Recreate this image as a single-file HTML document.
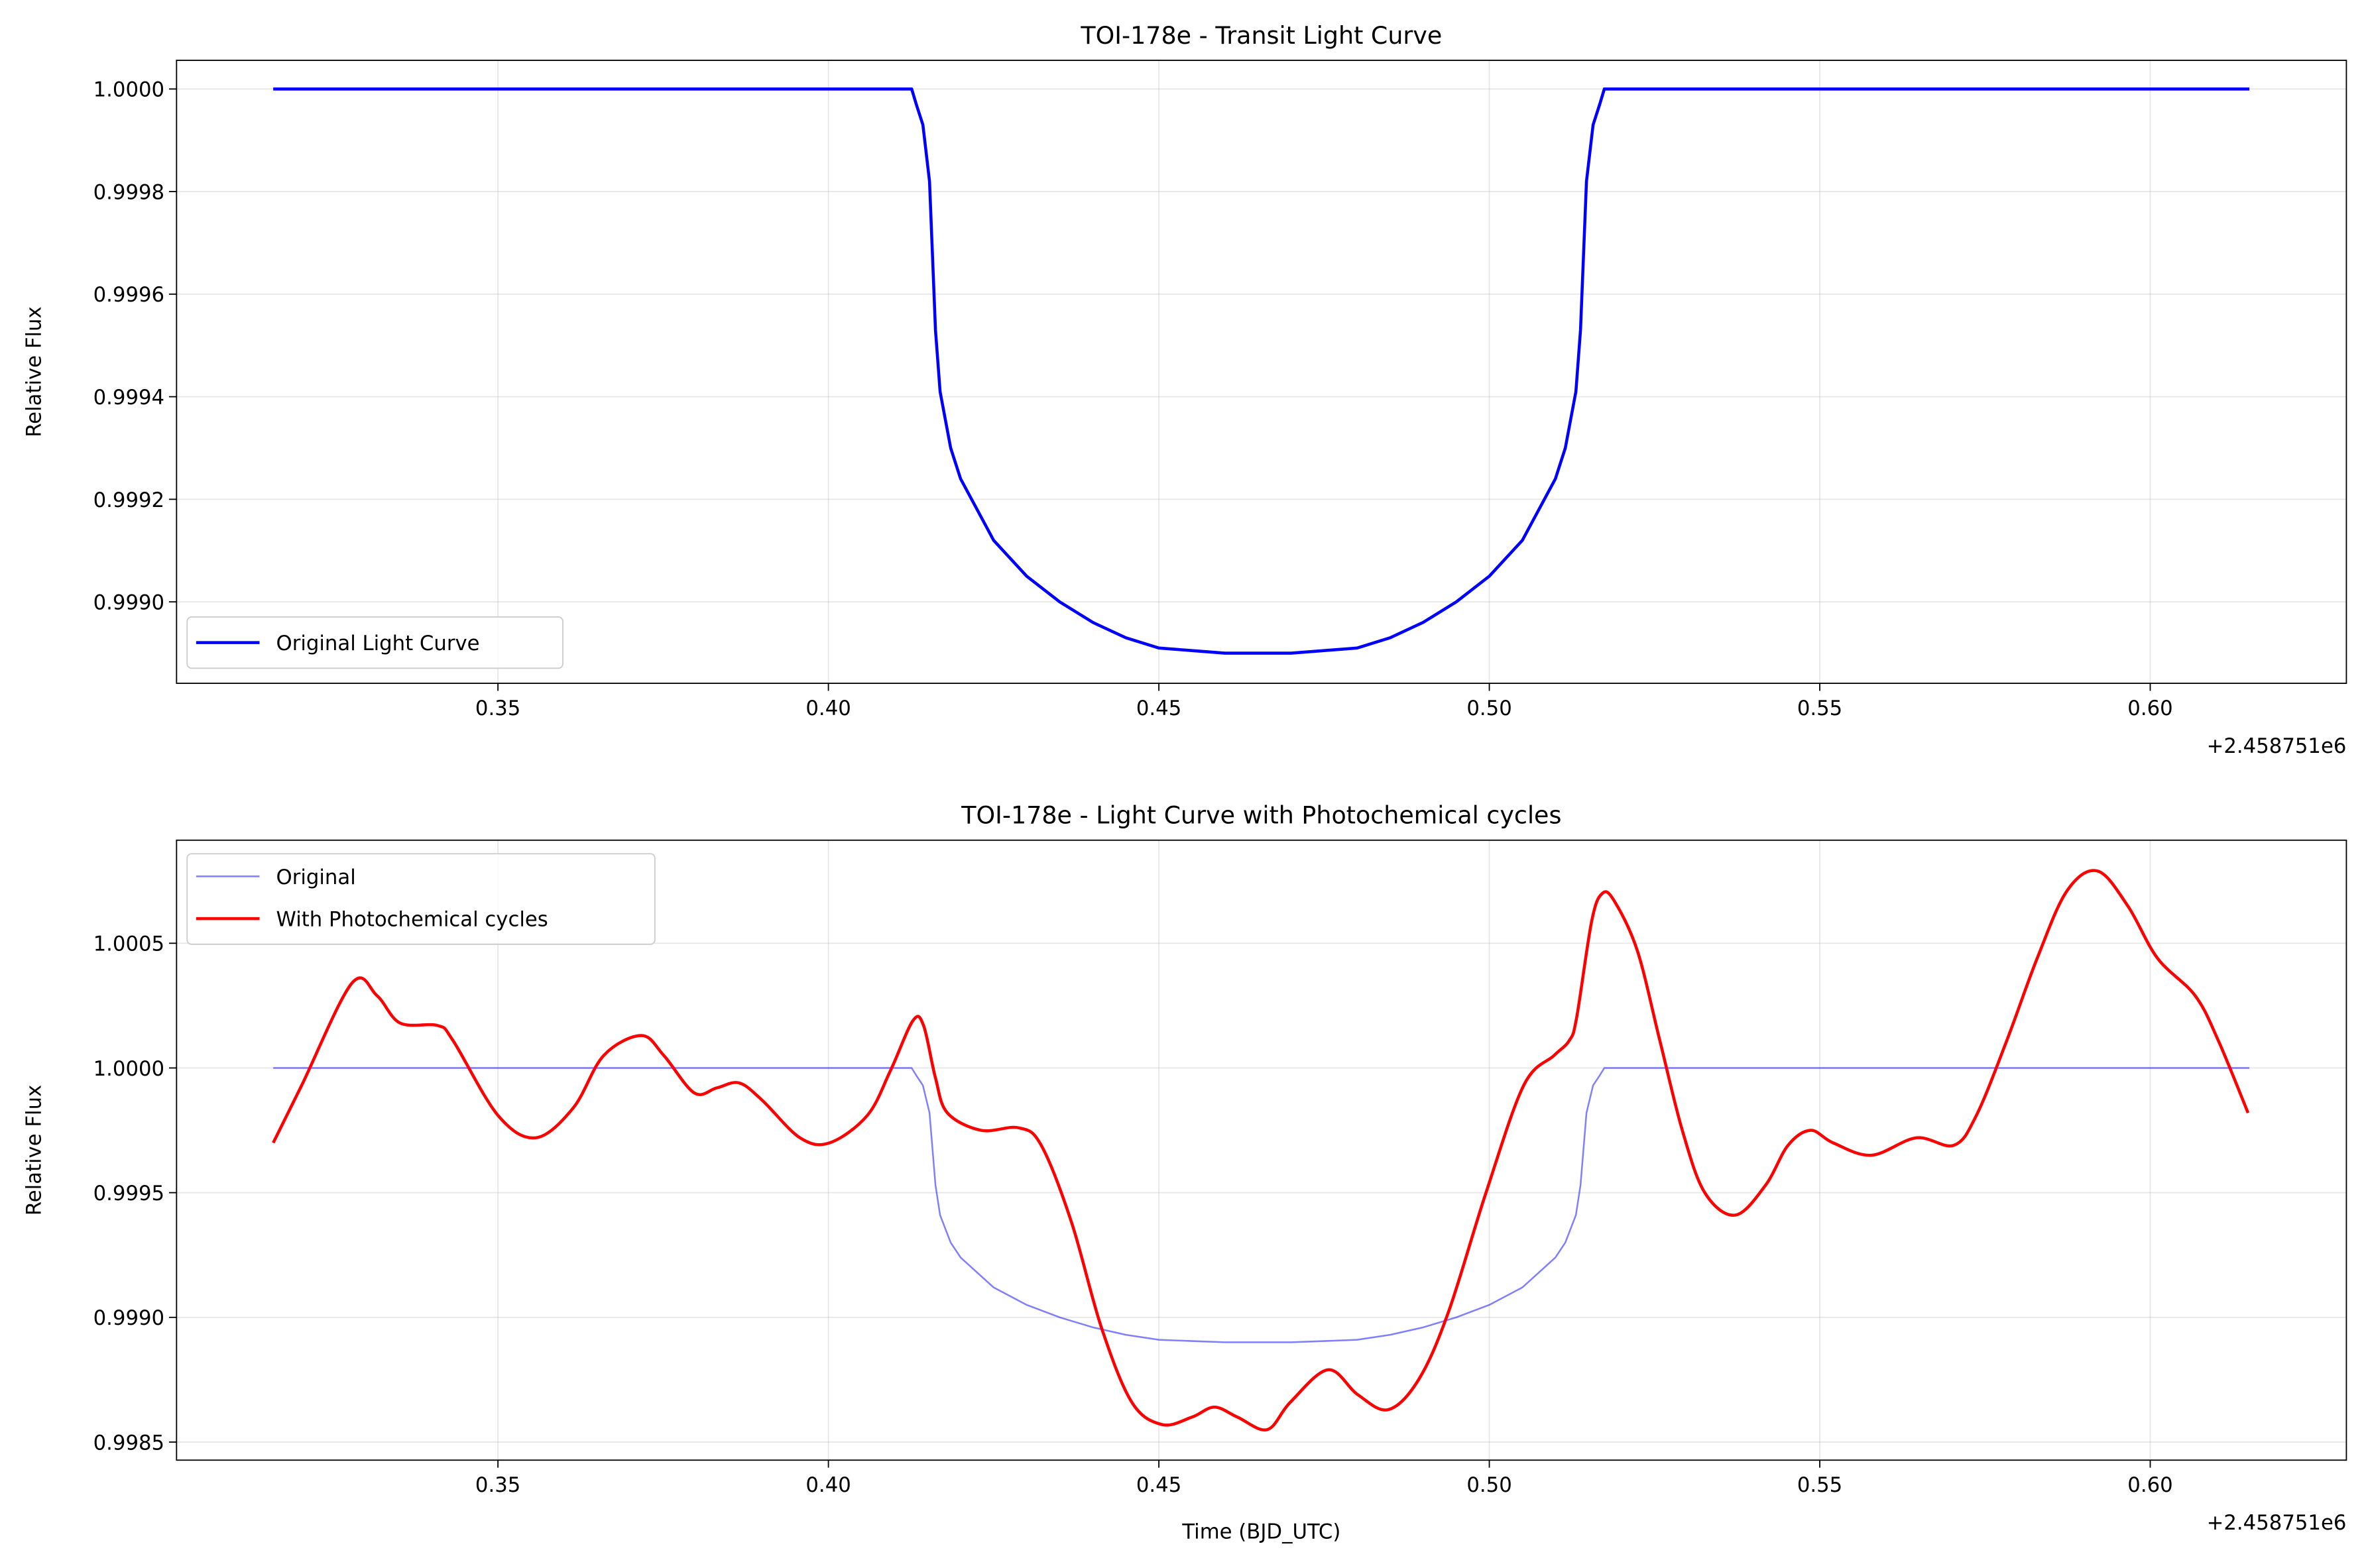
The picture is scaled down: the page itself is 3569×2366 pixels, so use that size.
<!DOCTYPE html>
<html><head><meta charset="utf-8"><style>
html,body{margin:0;padding:0;background:#fff;}
svg{display:block;font-family:"DejaVu Sans","Liberation Sans",sans-serif;}
</style></head><body>
<svg id="chart" width="3569" height="2366" viewBox="0 0 1568 1039.5" preserveAspectRatio="none" xmlns="http://www.w3.org/2000/svg">
<rect width="1568" height="1039.5" fill="#fff"/>
<g id="top"></g>
<g id="bot"></g>
</svg>
<script>
const xTicks = [0.35, 0.40, 0.45, 0.50, 0.55, 0.60];
const xTickLabels = ["0.35","0.40","0.45","0.50","0.55","0.60"];
const topYTicks = [0.9990, 0.9992, 0.9994, 0.9996, 0.9998, 1.0000];
const topYTickLabels = ["0.9990","0.9992","0.9994","0.9996","0.9998","1.0000"];
const botYTicks = [0.9985, 0.9990, 0.9995, 1.0000, 1.0005];
const botYTickLabels = ["0.9985","0.9990","0.9995","1.0000","1.0005"];
const transitTime = [0.316,0.4126,0.4133,0.4143,0.4153,0.4162,0.4169,0.4185,0.420,0.425,0.430,0.435,0.440,0.445,0.450,0.455,0.460,0.465,0.470,0.475,0.480,0.485,0.490,0.495,0.500,0.505,0.510,0.5115,0.5131,0.5138,0.5147,0.5157,0.5167,0.5174,0.615];
const transitFlux = [1,1,0.99997,0.99993,0.99982,0.99953,0.99941,0.99930,0.99924,0.99912,0.99905,0.99900,0.99896,0.99893,0.99891,0.998905,0.99890,0.99890,0.99890,0.998905,0.99891,0.99893,0.99896,0.99900,0.99905,0.99912,0.99924,0.99930,0.99941,0.99953,0.99982,0.99993,0.99997,1,1];
const photoTime = [0.3160,0.3203,0.3279,0.3317,0.3352,0.3409,0.3432,0.3500,0.3557,0.3614,0.3660,0.3717,0.3751,0.3797,0.3831,0.3865,0.3900,0.3957,0.4002,0.4059,0.4094,0.4128,0.4144,0.4162,0.4180,0.4231,0.4288,0.4322,0.4368,0.4413,0.4459,0.4505,0.4550,0.4584,0.4619,0.4664,0.4699,0.4756,0.4801,0.4847,0.4893,0.4938,0.4995,0.5052,0.5098,0.5121,0.5132,0.5155,0.5171,0.5189,0.5224,0.5258,0.5292,0.5326,0.5372,0.5418,0.5452,0.5486,0.5520,0.5578,0.5646,0.5703,0.5737,0.5783,0.5829,0.5874,0.5920,0.5966,0.6011,0.6068,0.6103,0.6148];
const photoFlux = [0.99970,0.99993,1.00034,1.00029,1.00018,1.00017,1.00011,0.99981,0.99972,0.99984,1.00005,1.00013,1.00005,0.99990,0.99992,0.99994,0.99987,0.99972,0.99970,0.99981,0.99999,1.00019,1.00017,0.99996,0.99982,0.99975,0.99976,0.99969,0.99938,0.99896,0.99866,0.99857,0.99860,0.99864,0.99860,0.99855,0.99866,0.99879,0.99869,0.99863,0.99875,0.99902,0.99950,0.99993,1.00005,1.00011,1.00020,1.00059,1.00070,1.00067,1.00047,1.00011,0.99975,0.99950,0.99941,0.99953,0.99969,0.99975,0.99970,0.99965,0.99972,0.99969,0.99981,1.00011,1.00044,1.00071,1.00079,1.00065,1.00044,1.00029,1.00011,0.99982];

const NS="http://www.w3.org/2000/svg";
function mk(parent,tag,attrs,text){const e=document.createElementNS(NS,tag);for(const k in attrs)e.setAttribute(k,attrs[k]);if(text!==undefined)e.textContent=text;parent.appendChild(e);return e;}
const L=117,R=1555;
const xs=t=>330+(t-0.35)/0.05*219;
function smooth(pts){let d="M"+pts[0][0].toFixed(2)+","+pts[0][1].toFixed(2);
 for(let i=0;i<pts.length-1;i++){const p0=pts[Math.max(0,i-1)],p1=pts[i],p2=pts[i+1],p3=pts[Math.min(pts.length-1,i+2)];
 const c1=[p1[0]+(p2[0]-p0[0])/6,p1[1]+(p2[1]-p0[1])/6],c2=[p2[0]-(p3[0]-p1[0])/6,p2[1]-(p3[1]-p1[1])/6];
 d+=" C"+c1[0].toFixed(2)+","+c1[1].toFixed(2)+" "+c2[0].toFixed(2)+","+c2[1].toFixed(2)+" "+p2[0].toFixed(2)+","+p2[1].toFixed(2);}return d;}
function poly(pts){return pts.map(p=>p[0].toFixed(2)+","+p[1].toFixed(2)).join(' ');}
function panel(g,T,B,ys,yt,yl,title,showXLabel){
 mk(g,'rect',{x:L,y:T,width:R-L,height:B-T,fill:'#fff'});
 xTicks.forEach((v,i)=>{const x=xs(v);
  const gl=mk(g,'line',{x1:x,x2:x,y1:T,y2:B,stroke:'#b0b0b0','stroke-opacity':0.3,'stroke-width':0.8});
  
  mk(g,'line',{x1:x,x2:x,y1:B,y2:B+5,stroke:'#000','stroke-width':0.8});
  const tl=mk(g,'text',{x:x,y:B+21,'font-size':13.5,'text-anchor':'middle'},xTickLabels[i]);
  });
 yt.forEach((v,i)=>{const y=ys(v);
  const gl=mk(g,'line',{x1:L,x2:R,y1:y,y2:y,stroke:'#b0b0b0','stroke-opacity':0.3,'stroke-width':0.8});
  
  mk(g,'line',{x1:L-5,x2:L,y1:y,y2:y,stroke:'#000','stroke-width':0.8});
  const tl=mk(g,'text',{x:L-8,y:y+5,'font-size':13.5,'text-anchor':'end'},yl[i]);
  });
 const tt=mk(g,'text',{x:(L+R)/2,y:T-11,'font-size':16,'text-anchor':'middle'},title);
 
 const ya=mk(g,'text',{x:0,y:0,'font-size':13.5,'text-anchor':'middle',transform:`translate(27,${(T+B)/2}) rotate(-90)`},'Relative Flux');
 
 const off=mk(g,'text',{x:R,y:B+46,'font-size':13.5,'text-anchor':'end'},'+2.458751e6');
 
 if(showXLabel){const xa=mk(g,'text',{x:(L+R)/2,y:B+52,'font-size':13.5,'text-anchor':'middle'},'Time (BJD_UTC)');
  }
}
function frame(g,T,B){mk(g,'rect',{x:L,y:T,width:R-L,height:B-T,fill:'none',stroke:'#000','stroke-width':0.8});}
const gT=document.getElementById('top');
const T1=40,B1=453;const ys1=v=>59+(1-v)/0.0002*68;
panel(gT,T1,B1,ys1,topYTicks,topYTickLabels,'TOI-178e - Transit Light Curve',false);
const tp=transitTime.map((t,i)=>[xs(t),ys1(transitFlux[i])]);
const l1=mk(gT,'polyline',{points:poly(tp),fill:'none',stroke:'#0000ff','stroke-width':2,'stroke-linejoin':'round'});

frame(gT,T1,B1);
const lg1=mk(gT,'g',{});
mk(lg1,'rect',{x:124,y:409,width:249,height:34,rx:3,fill:'#fff','fill-opacity':0.8,stroke:'#ccc','stroke-width':0.8});
mk(lg1,'line',{x1:130,x2:172,y1:426,y2:426,stroke:'#0000ff','stroke-width':2});
mk(lg1,'text',{x:183,y:431,'font-size':13.5},'Original Light Curve');
const gB=document.getElementById('bot');
const T2=557,B2=968;const ys2=v=>708+(1-v)/0.0005*82.67;
panel(gB,T2,B2,ys2,botYTicks,botYTickLabels,'TOI-178e - Light Curve with Photochemical cycles',true);
const bp=transitTime.map((t,i)=>[xs(t),ys2(transitFlux[i])]);
const l2=mk(gB,'polyline',{points:poly(bp),fill:'none',stroke:'#0000ff','stroke-opacity':0.5,'stroke-width':1.1,'stroke-linejoin':'round'});

const pp=photoTime.map((t,i)=>[xs(t),ys2(photoFlux[i])]);
const l3=mk(gB,'path',{d:smooth(pp),fill:'none',stroke:'#ff0000','stroke-width':2});

frame(gB,T2,B2);
const lg2=mk(gB,'g',{});
mk(lg2,'rect',{x:124,y:566,width:310,height:60,rx:3,fill:'#fff','fill-opacity':0.8,stroke:'#ccc','stroke-width':0.8});
mk(lg2,'line',{x1:130,x2:172,y1:581,y2:581,stroke:'#0000ff','stroke-opacity':0.5,'stroke-width':1.1});
mk(lg2,'text',{x:183,y:586,'font-size':13.5},'Original');
mk(lg2,'line',{x1:130,x2:172,y1:609,y2:609,stroke:'#ff0000','stroke-width':2});
mk(lg2,'text',{x:183,y:614,'font-size':13.5},'With Photochemical cycles');
</script>
</body></html>
